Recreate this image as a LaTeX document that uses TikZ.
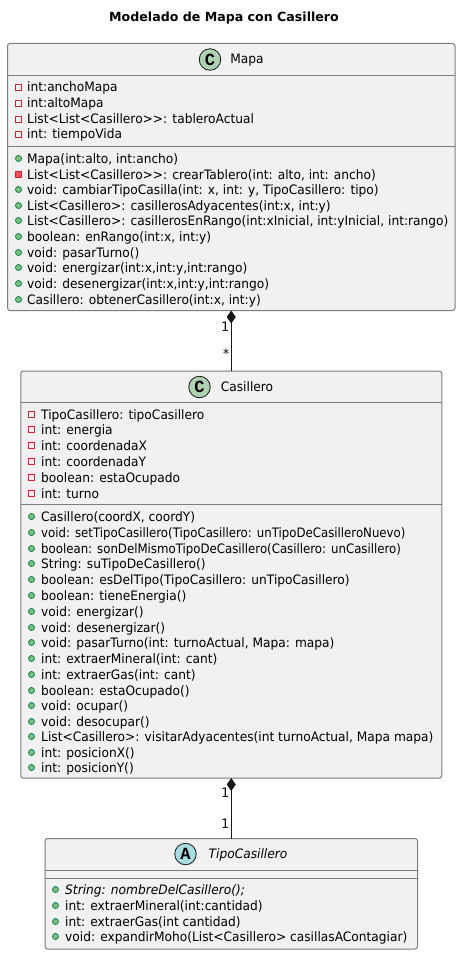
\documentclass[tikz,border=0pt]{standalone}
\usepackage{fontspec}
\setmainfont{DejaVu Sans}[FakeStretch=0.94]
\newfontfamily\narrowrow{DejaVu Sans}[FakeStretch=0.905]
\newfontfamily\titlefont{DejaVu Sans}
\newfontfamily\badgefont{Liberation Mono}
\usetikzlibrary{arrows.meta,positioning}
\definecolor{boxfill}{RGB}{241,241,241}
\definecolor{umlline}{RGB}{125,125,125}
\definecolor{umldark}{RGB}{24,24,24}
\definecolor{classgreen}{RGB}{173,209,178}
\definecolor{abstractblue}{RGB}{169,220,223}
\definecolor{privred}{RGB}{200,41,48}
\definecolor{privfill}{RGB}{242,77,92}
\definecolor{pubgreen}{RGB}{3,128,72}
\definecolor{pubfill}{RGB}{132,190,132}
\tikzset{
  umlbox/.style={draw=umlline, fill=boxfill, line width=1pt, rounded corners=2.5pt, inner sep=0pt, outer sep=0pt, anchor=north west},
  umlsep/.style={draw=umlline, line width=1pt},
  badge/.style={draw=umldark, circle, line width=0.8pt, minimum size=21.5pt, inner sep=0pt, font=\fontsize{17}{17}\badgefont\bfseries},
  rowtext/.style={anchor=base west, inner sep=0pt, font=\fontsize{13}{14}\selectfont, text=black},
  privattr/.style={draw=privred, line width=0.8pt, rectangle, minimum size=6pt, inner sep=0pt},
  privmeth/.style={draw=privred, fill=privfill, line width=0.8pt, rectangle, minimum size=6pt, inner sep=0pt},
  pubmeth/.style={draw=pubgreen, fill=pubfill, line width=0.8pt, circle, minimum size=6pt, inner sep=0pt},
  multiplicity/.style={inner sep=0pt, font=\fontsize{13}{14}\selectfont, text=black},
  compo/.style={{Diamond[length=13pt,width=9pt]}-, draw=umldark, fill=umldark, line width=1pt},
}
\begin{document}
\begin{tikzpicture}[x=1pt, y=-1pt]
	\useasboundingbox (0,0) rectangle (461,955);
	\node[font=\fontsize{12.6}{14}\titlefont\bfseries] (title) at (224,18) {Modelado de Mapa con Casillero};

	% Mapa
	\node[umlbox, minimum width=447.5pt, minimum height=267pt] (mapa) at (7.5,43.5) {};
	\node[badge, fill=classgreen] (mapaBadge) at (210,59.5) {C};
	\node[rowtext, anchor=base] (mapaName) at (247,64) {Mapa};
	\draw[umlsep] (mapa.west |- 0,75.5) -- (mapa.east |- 0,75.5);
	\draw[umlsep] (mapa.west |- 0,146.5) -- (mapa.east |- 0,146.5);
	\foreach \y/\vis/\txt [count=\i] in {
		92/privattr/{int:anchoMapa},
		108/privattr/{int:altoMapa},
		124/privattr/{List<List<Casillero>{}>: tableroActual},
		139/privattr/{int: tiempoVida},
		163/pubmeth/{Mapa(int:alto, int:ancho)},
		179/privmeth/{List<List<Casillero>{}>: crearTablero(int: alto, int: ancho)},
		194/pubmeth/{void: cambiarTipoCasilla(int: x, int: y, TipoCasillero: tipo)},
		210/pubmeth/{List<Casillero>: casillerosAdyacentes(int:x, int:y)},
		225/pubmeth/{List<Casillero>: casillerosEnRango(int:xInicial, int:yInicial, int:rango)},
		241/pubmeth/{boolean: enRango(int:x, int:y)},
		257/pubmeth/{void: pasarTurno()},
		272/pubmeth/{void: energizar(int:x,int:y,int:rango)},
		288/pubmeth/{void: desenergizar(int:x,int:y,int:rango)},
		304/pubmeth/{Casillero: obtenerCasillero(int:x, int:y)}
	}{
		\node[\vis] (mapaVis\i) at (18.5,\y-4.5) {};
		\node[rowtext] (mapaRow\i) at (27,\y) {\txt};
	}

	% Casillero
	\node[umlbox, minimum width=421pt, minimum height=407pt, below=60.5pt of mapa.south, anchor=north] (casillero) {};
	\node[badge, fill=classgreen] (casilleroBadge) at (199.5,387) {C};
	\node[rowtext, anchor=base] (casilleroName) at (247,391.5) {Casillero};
	\draw[umlsep] (casillero.west |- 0,402.5) -- (casillero.east |- 0,402.5);
	\draw[umlsep] (casillero.west |- 0,504.5) -- (casillero.east |- 0,504.5);
	\foreach \y/\vis/\txt [count=\i] in {
		419/privattr/{TipoCasillero: tipoCasillero},
		434/privattr/{int: energia},
		450/privattr/{int: coordenadaX},
		466/privattr/{int: coordenadaY},
		482/privattr/{boolean: estaOcupado},
		498/privattr/{int: turno},
		521/pubmeth/{Casillero(coordX, coordY)},
		537/pubmeth/{\narrowrow void: setTipoCasillero(TipoCasillero: unTipoDeCasilleroNuevo)},
		553/pubmeth/{\narrowrow boolean: sonDelMismoTipoDeCasillero(Casillero: unCasillero)},
		568/pubmeth/{String: suTipoDeCasillero()},
		584/pubmeth/{boolean: esDelTipo(TipoCasillero: unTipoCasillero)},
		600/pubmeth/{boolean: tieneEnergia()},
		616/pubmeth/{void: energizar()},
		632/pubmeth/{void: desenergizar()},
		647/pubmeth/{void: pasarTurno(int: turnoActual, Mapa: mapa)},
		663/pubmeth/{int: extraerMineral(int: cant)},
		679/pubmeth/{int: extraerGas(int: cant)},
		695/pubmeth/{boolean: estaOcupado()},
		710/pubmeth/{void: ocupar()},
		726/pubmeth/{void: desocupar()},
		741/pubmeth/{List<Casillero>: visitarAdyacentes(int turnoActual, Mapa mapa)},
		757/pubmeth/{int: posicionX()},
		772/pubmeth/{int: posicionY()}
	}{
		\node[\vis] (casilleroVis\i) at (31.5,\y-4.5) {};
		\node[rowtext] (casilleroRow\i) at (41,\y) {\txt};
	}

	% TipoCasillero
	\node[umlbox, minimum width=372.5pt, minimum height=110.5pt, below=60.5pt of casillero.south, anchor=north] (tipoCasillero) {};
	\node[badge, fill=abstractblue] (tipoBadge) at (185.5,854) {A};
	\node[rowtext, anchor=base] (tipoName) at (248,858.5) {\textit{TipoCasillero}};
	\draw[umlsep] (tipoCasillero.west |- 0,870) -- (tipoCasillero.east |- 0,870);
	\draw[umlsep] (tipoCasillero.west |- 0,878) -- (tipoCasillero.east |- 0,878);
	\foreach \y/\vis/\txt [count=\i] in {
		894/pubmeth/{\textit{String: nombreDelCasillero();}},
		910/pubmeth/{int: extraerMineral(int:cantidad)},
		926/pubmeth/{int: extraerGas(int cantidad)},
		941/pubmeth/{void: expandirMoho(List<Casillero> casillasAContagiar)}
	}{
		\node[\vis] (tipoVis\i) at (55.5,\y-4.5) {};
		\node[rowtext] (tipoRow\i) at (65,\y) {\txt};
	}

	% composiciones
	\draw[compo] (mapa) -- (casillero)
		node[multiplicity, pos=0.27, left=1.5pt] (mapaOne) {1}
		node[multiplicity, pos=0.72, left=1.5pt] (casilleroMany) {*};
	\draw[compo] (casillero) -- (tipoCasillero)
		node[multiplicity, pos=0.25, left=1.5pt] (casilleroOne) {1}
		node[multiplicity, pos=0.75, left=1.5pt] (tipoOne) {1};
\end{tikzpicture}
\end{document}
